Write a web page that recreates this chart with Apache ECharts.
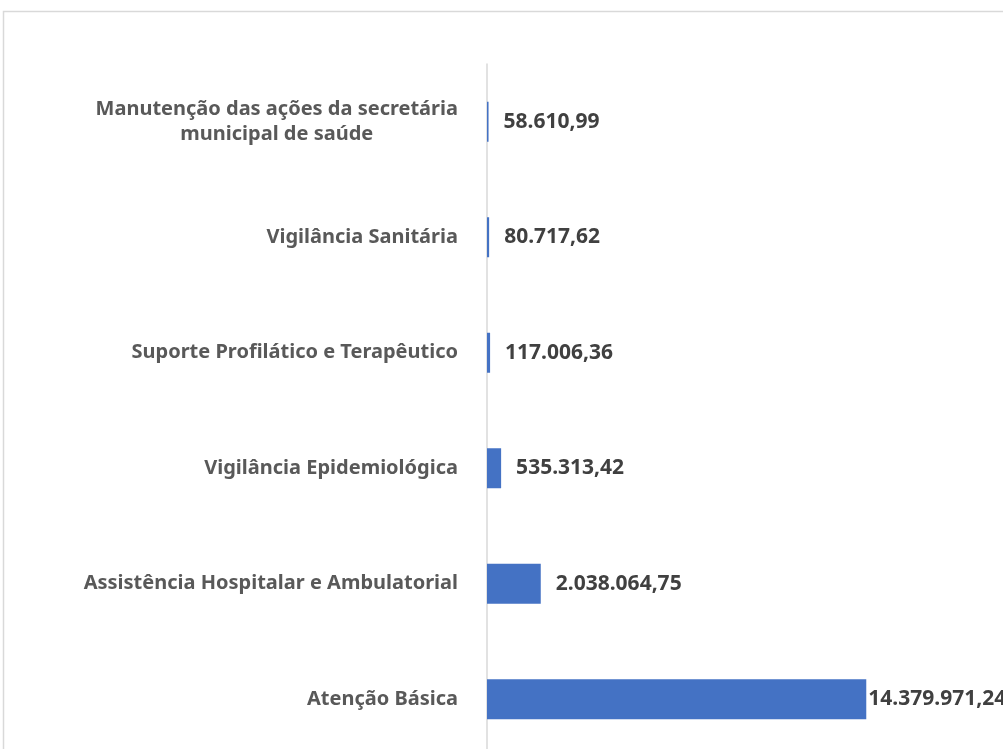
<!DOCTYPE html>
<html>
<head>
<meta charset="utf-8">
<script src="https://cdn.jsdelivr.net/npm/echarts@6/dist/echarts.min.js"></script>
<style>
  html, body { margin: 0; padding: 0; background: #fff; }
  #chart { width: 1003px; height: 749px; }
</style>
</head>
<body>
<div id="chart"></div>
<script>
  var chart = echarts.init(document.getElementById('chart'));

  // categorias de cima para baixo
  var categorias = [
    'Manutenção das ações da secretária\nmunicipal de saúde',
    'Vigilância Sanitária',
    'Suporte Profilático e Terapêutico',
    'Vigilância Epidemiológica',
    'Assistência Hospitalar e Ambulatorial',
    'Atenção Básica'
  ];
  var valores = [58610.99, 80717.62, 117006.36, 535313.42, 2038064.75, 14379971.24];

  function formataBR(v) {
    var partes = v.toFixed(2).split('.');
    var inteiro = partes[0].replace(/\B(?=(\d{3})+(?!\d))/g, '.');
    return inteiro + ',' + partes[1];
  }

  var fonte = '"Noto Sans", sans-serif';

  var option = {
    backgroundColor: '#fff',
    animation: false,
    graphic: [{
      type: 'rect',
      shape: { x: 3.5, y: 11.5, width: 1100, height: 800 },
      style: { fill: 'none', stroke: '#d9d9d9', lineWidth: 1.5 },
      silent: true
    }],
    grid: {
      left: 487,
      top: 64,
      width: 422,
      height: 693,
      outerBoundsMode: 'none'
    },
    xAxis: {
      type: 'value',
      min: 0,
      max: 16000000,
      show: false,
      splitLine: { show: false }
    },
    yAxis: {
      type: 'category',
      inverse: true,
      data: categorias,
      axisTick: { show: false },
      axisLine: { show: true, lineStyle: { color: '#d9d9d9', width: 1.5 } },
      axisLabel: {
        margin: 29,
        formatter: function (v) { return '{c|' + v + '}'; },
        rich: {
          c: {
            align: 'center',
            fontFamily: fonte,
            fontWeight: 'bold',
            fontSize: 20,
            lineHeight: 25,
            color: '#595959'
          }
        }
      }
    },
    series: [{
      type: 'bar',
      barWidth: 40,
      itemStyle: { color: '#4472C4' },
      label: {
        show: true,
        position: 'right',
        distance: 15,
        fontFamily: fonte,
        fontWeight: 'bold',
        fontSize: 21,
        color: '#404040',
        formatter: function (p) { return formataBR(p.value); }
      },
      data: valores.map(function (v, i) {
        // o rótulo da maior barra fica colado ao fim da barra
        return i === valores.length - 1 ? { value: v, label: { distance: 2 } } : v;
      })
    }]
  };

  chart.setOption(option);
</script>
</body>
</html>
